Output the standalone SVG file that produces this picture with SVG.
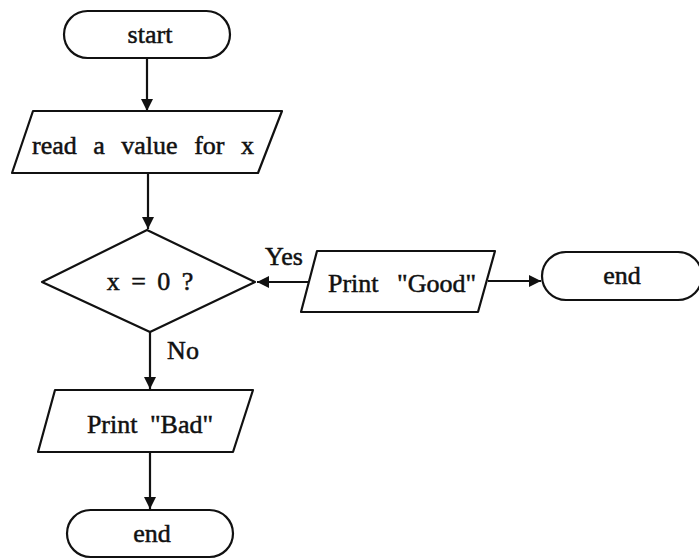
<svg xmlns="http://www.w3.org/2000/svg" width="699" height="559" viewBox="0 0 699 559">
<style>
.s{fill:#fff;stroke:#111;stroke-width:2.2;stroke-linejoin:round}
.t{font-family:"Liberation Serif","Times New Roman",serif;font-size:26px;fill:#111;stroke:#111;stroke-width:0.5;text-anchor:middle}
.c{fill:none;stroke:#111;stroke-width:2.2}
</style>
<defs>
<marker id="a" markerWidth="12" markerHeight="12" refX="10" refY="5" orient="auto" markerUnits="userSpaceOnUse" viewBox="0 0 10 10">
<path d="M0,0 L10,5 L0,10 Z" fill="#111"/>
</marker>
</defs>
<rect width="699" height="559" fill="#fff"/>
<g id="connectors">
<line class="c" x1="147" y1="58" x2="147" y2="111" marker-end="url(#a)"/>
<line class="c" x1="148" y1="173" x2="148" y2="229" marker-end="url(#a)"/>
<line class="c" x1="309" y1="282" x2="257" y2="282" marker-end="url(#a)"/>
<line class="c" x1="488" y1="281" x2="541" y2="281" marker-end="url(#a)"/>
<line class="c" x1="150" y1="332" x2="150" y2="389" marker-end="url(#a)"/>
<line class="c" x1="150" y1="452" x2="150" y2="509" marker-end="url(#a)"/>
<text class="t" x="284" y="265">Yes</text>
<text class="t" x="183" y="359">No</text>
</g>
<g id="start">
<rect class="s" x="64" y="11" width="166" height="47" rx="23.5"/>
<text class="t" x="150" y="43">start</text>
</g>
<g id="read">
<polygon class="s" points="33,111 282,111 258,173 12,173"/>
<text class="t" x="143" y="154" style="word-spacing:10px">read a value for x</text>
</g>
<g id="decision">
<polygon class="s" points="147,230 255,282 150,332 42,282"/>
<text class="t" x="150" y="290" style="word-spacing:5px">x = 0 ?</text>
</g>
<g id="printGood">
<polygon class="s" points="317,251 495,251 478,312 301,312"/>
<text class="t" x="402" y="292" style="word-spacing:12px">Print "Good"</text>
</g>
<g id="end1">
<rect class="s" x="542" y="252" width="160" height="48" rx="24"/>
<text class="t" x="622" y="284">end</text>
</g>
<g id="printBad">
<polygon class="s" points="55,390 253,390 233,452 38,452"/>
<text class="t" x="150" y="433" style="word-spacing:6px">Print "Bad"</text>
</g>
<g id="end2">
<rect class="s" x="67" y="510" width="166" height="47" rx="23.5"/>
<text class="t" x="152" y="542">end</text>
</g>
</svg>
